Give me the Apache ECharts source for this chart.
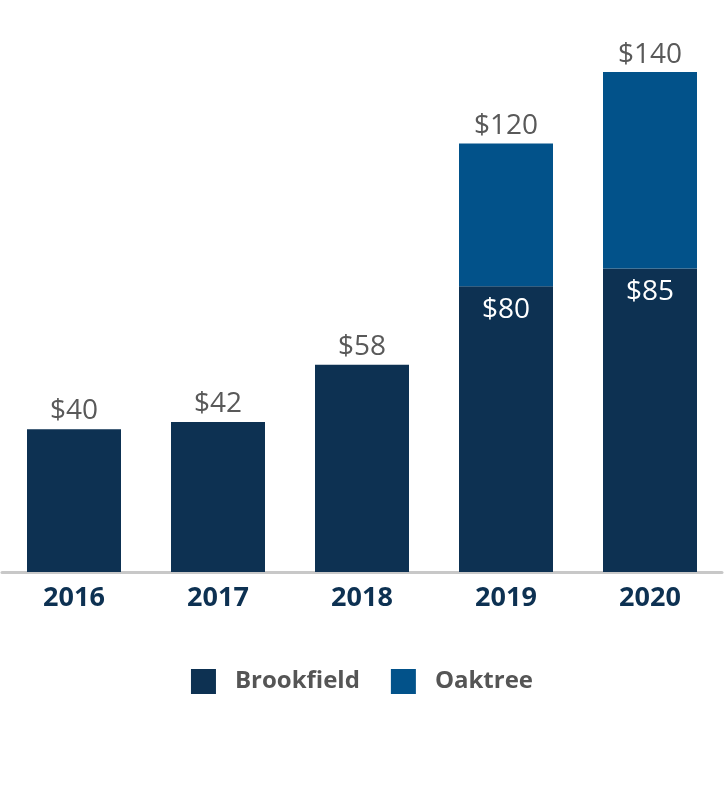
<!DOCTYPE html>
<html>
<head>
<meta charset="utf-8">
<script src="https://cdn.jsdelivr.net/npm/echarts@6/dist/echarts.min.js"></script>
<style>
html, body { margin: 0; padding: 0; background: #fff; }
#chart { width: 724px; height: 798px; }
</style>
</head>
<body>
<div id="chart"></div>
<script>
// 数据
var years = ['2016', '2017', '2018', '2019', '2020'];
var brookfield = [40, 42, 58, 80, 85];
var oaktree = [null, null, null, 40, 55];

var navy = '#0d3152';
var blue = '#02528a';
var gray = '#595959';

var myChart = echarts.init(document.getElementById('chart'));

// Brookfield 的标签: 有 Oaktree 时放在柱内顶部, 否则在柱顶
var brookData = brookfield.map(function (v, i) {
    var stacked = oaktree[i] != null;
    return {
        value: v,
        label: stacked
            ? { position: 'insideTop', distance: 10, color: '#fff' }
            : { position: 'top', distance: 4, color: gray }
    };
});

var option = {
    animation: false,
    textStyle: { fontFamily: 'Open Sans' },
    grid: { left: 2, right: 2, top: 72, bottom: 226 },
    legend: {
        left: 'center',
        top: 664,
        itemWidth: 25,
        itemHeight: 25,
        itemGap: 31,
        icon: 'rect',
        textStyle: {
            fontFamily: 'Open Sans',
            fontWeight: 'bold',
            fontSize: 24,
            color: '#555',
            padding: [0, 0, 0, 14]
        },
        data: ['Brookfield', 'Oaktree']
    },
    xAxis: {
        type: 'category',
        data: years,
        axisLine: { lineStyle: { color: '#c8c8c8', width: 3 } },
        axisTick: { show: false },
        axisLabel: {
            margin: 13,
            fontFamily: 'Open Sans',
            fontWeight: 'bold',
            fontSize: 27,
            color: navy
        }
    },
    yAxis: {
        type: 'value',
        min: 0,
        max: 140,
        show: false,
        splitLine: { show: false }
    },
    series: [{
        name: 'Brookfield',
        type: 'bar',
        stack: 'total',
        barWidth: 94,
        itemStyle: { color: navy },
        label: {
            show: true,
            fontFamily: 'Open Sans',
            fontSize: 28,
            formatter: '${c}'
        },
        data: brookData
    }, {
        name: 'Oaktree',
        type: 'bar',
        stack: 'total',
        barWidth: 94,
        itemStyle: { color: blue },
        label: {
            show: true,
            position: 'top',
            distance: 3,
            fontFamily: 'Open Sans',
            fontSize: 28,
            color: gray,
            formatter: function (p) {
                return '$' + (brookfield[p.dataIndex] + oaktree[p.dataIndex]);
            }
        },
        data: oaktree
    }]
};

myChart.setOption(option);
</script>
</body>
</html>
